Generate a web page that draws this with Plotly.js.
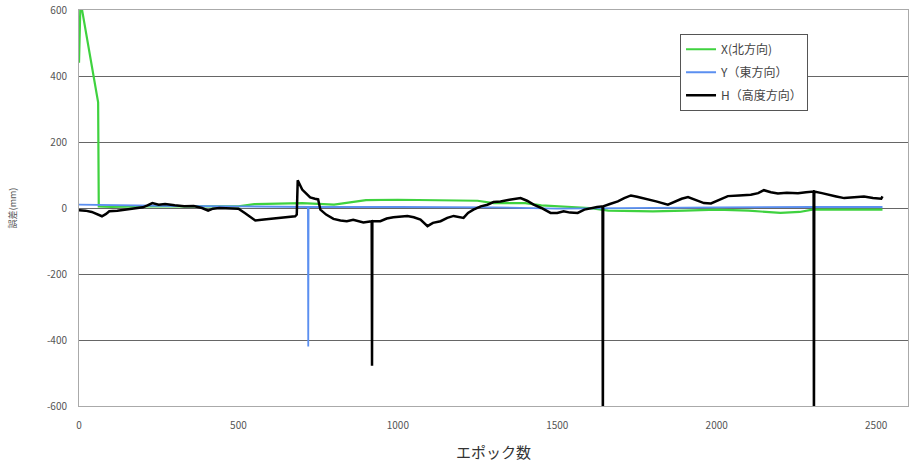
<!DOCTYPE html>
<html>
<head>
<meta charset="utf-8">
<script src="https://cdn.plot.ly/plotly-3.0.1.min.js"></script>
<style>html,body{margin:0;padding:0;background:#fff;}#chart{width:916px;height:468px;}</style>
</head>
<body>
<div id="chart"></div>
<script>
// X (north) series
const xEpoch = [0,4,10,60,62,100,200,300,400,500,550,700,800,880,900,1000,1100,1250,1300,1400,1450,1550,1600,1660,1800,1900,2000,2100,2200,2260,2300,2400,2520];
const xVal   = [440,600,598,320,5,3,5,5,5,5,12,15,10,20,24,25,24,22,15,15,8,3,0,-8,-10,-8,-5,-8,-15,-12,-5,-5,-5];
// Y (east) series
const yEpoch = [0,100,300,500,718,719,720,1000,1300,1500,1700,2000,2300,2520];
const yVal   = [10,8,6,5,3,-420,3,3,2,-2,0,2,3,3];
// H (height) series
const hEpoch = [0,20,40,60,72,85,95,120,150,180,200,215,230,250,270,300,330,360,386,405,420,440,458,480,500,520,540,553,580,600,616,640,660,678,683,686,700,715,725,740,750,757,775,798,820,840,860,892,910,918,919,920,945,965,986,1010,1030,1050,1071,1093,1110,1134,1155,1175,1190,1206,1220,1237,1260,1281,1300,1322,1350,1385,1405,1426,1450,1479,1500,1520,1540,1564,1585,1605,1625,1642,1643,1644,1665,1690,1710,1731,1750,1784,1810,1847,1870,1890,1910,1930,1960,1982,2010,2035,2070,2107,2130,2148,2170,2192,2220,2255,2280,2304,2305,2306,2330,2349,2375,2400,2430,2462,2490,2516,2520];
const hVal   = [-7,-8,-12,-20,-25,-18,-10,-8,-5,-2,2,8,15,10,12,8,5,6,0,-8,-2,0,0,0,-2,-15,-30,-38,-35,-33,-33,-30,-28,-25,-20,84,56,42,32,28,26,-5,-20,-33,-38,-40,-36,-44,-40,-40,-478,-40,-40,-32,-28,-26,-24,-28,-35,-55,-45,-40,-30,-24,-28,-30,-15,-5,5,10,18,20,25,30,22,10,0,-15,-15,-10,-14,-15,-5,0,3,5,-700,5,12,20,30,38,34,27,20,10,20,28,33,25,15,14,25,36,38,40,45,54,48,44,46,45,48,50,-700,50,45,40,35,30,33,35,30,28,35];

const seriesNames = ['X(北方向)', 'Y（東方向）', 'H（高度方向）'];
const yTicks = [-600,-400,-200,0,200,400,600];
const xTicks = [0,500,1000,1500,2000,2500];

const font = 'Noto Sans CJK JP, sans-serif';

const traces = [
  {x: xEpoch, y: xVal, name: seriesNames[0], legendgroup: 'a', mode: 'lines', line: {color: '#3fd23f', width: 2.2}},
  {x: yEpoch, y: yVal, name: seriesNames[1], legendgroup: 'b', mode: 'lines', line: {color: '#5b8ff0', width: 1.8}},
  {x: hEpoch, y: hVal, name: seriesNames[2], legendgroup: 'c', mode: 'lines', line: {color: '#000000', width: 2.5}}
];

const layout = {
  width: 916, height: 468,
  margin: {l: 79, r: 8, t: 10, b: 62},
  paper_bgcolor: '#fff', plot_bgcolor: '#fff',
  font: {family: font, color: '#444', size: 10},
  showlegend: true,
  legend: {x: 0.725, y: 0.94, xanchor: 'left', yanchor: 'top', bgcolor: '#fff',
           bordercolor: '#555', borderwidth: 1, font: {size: 12, color: '#444', family: font},
           tracegroupgap: 4, itemwidth: 30},
  xaxis: {range: [0, 2600], tickvals: xTicks, ticktext: xTicks.map(String), showgrid: false,
          zeroline: false, showline: true, linecolor: '#aaa', mirror: true, ticks: '',
          ticklabelstandoff: 10,
          tickfont: {size: 10, color: '#555'},
          title: {text: 'エポック数', font: {size: 15, color: '#333'}, standoff: 16}},
  yaxis: {range: [-600, 600], tickvals: yTicks, ticktext: yTicks.map(String), showgrid: true,
          gridcolor: '#666', gridwidth: 1, zeroline: false, showline: true, linecolor: '#aaa',
          mirror: true, ticks: '', ticklabelstandoff: 9, tickfont: {size: 10, color: '#555'},
          title: {text: '誤差(mm)', font: {size: 9, color: '#555'}, standoff: 28}}
};

Plotly.newPlot('chart', traces, layout, {displayModeBar: false, staticPlot: true});
</script>
</body>
</html>
